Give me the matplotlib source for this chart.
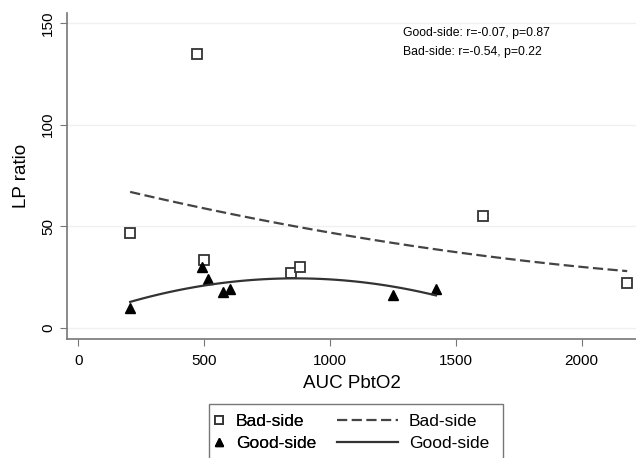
import matplotlib
matplotlib.use("Agg")
import matplotlib.pyplot as plt
from matplotlib.patches import Rectangle
import numpy as np

plt.rcParams['font.family'] = ['Liberation Sans', 'DejaVu Sans']

# bad-side (squares)
bad_x = [206, 470, 499, 844, 881, 1610, 2181]
bad_y = [46.7, 134.5, 33.4, 27.3, 30.0, 55.1, 22.1]
# good-side (triangles)
good_x = [206, 490, 517, 574, 603, 1251, 1421]
good_y = [9.8, 30.0, 24.0, 17.7, 19.3, 16.5, 19.1]

x_ticks = [0, 500, 1000, 1500, 2000]
y_ticks = [0, 50, 100, 150]
stats_txt = ["Good-side: r=-0.07, p=0.87", "Bad-side: r=-0.54, p=0.22"]

W, H = 636, 458
fig = plt.figure(figsize=(W/100, H/100), dpi=100)
ax = fig.add_axes([67/W, 1-339/H, 1-67/W, (339-13)/H])

# quadratic fits like stata qfit
def qfit(x, y):
    c = np.polyfit(x, y, 2)
    xx = np.linspace(min(x), max(x), 100)
    return xx, np.polyval(c, xx)

bx, by = qfit(bad_x, bad_y)
gx, gy = qfit(good_x, good_y)

for t in y_ticks:
    ax.axhline(t, color="#f0f0f0", lw=1, zorder=0)

sq, = ax.plot(bad_x, bad_y, 's', mfc='white', mec='#333333', mew=1.3, ms=6.5, ls='none')
tri, = ax.plot(good_x, good_y, '^', color='black', ms=7, ls='none')
dl, = ax.plot(bx, by, color='#444444', lw=1.6, ls=(0, (4.6, 2.0)))
sl, = ax.plot(gx, gy, color='#333333', lw=1.6)

ax.set_xlim(-45, 2216)
ax.set_ylim(-5.3, 154.8)
ax.set_xticks(x_ticks)
ax.set_yticks(y_ticks)
ax.set_yticklabels([str(t) for t in y_ticks], rotation=90, va='center')
ax.tick_params(direction='out', length=5, color='#777777', labelsize=11)
ax.tick_params(axis='x', pad=6)
for s in ['top', 'right']:
    ax.spines[s].set_visible(False)
for s in ['left', 'bottom']:
    ax.spines[s].set_color('#777777')
    ax.spines[s].set_linewidth(1.2)

ax.set_xlabel("AUC PbtO2", fontsize=13.5, labelpad=5)
ax.set_ylabel("LP ratio", fontsize=13.5, labelpad=8)

ax.text(1292, 144.9, stats_txt[0], fontsize=8.8, va='center', ha='left')
ax.text(1292, 135.6, stats_txt[1], fontsize=8.8, va='center', ha='left')

# legend: markers column + lines column inside one box
fs = 12.5
leg1 = fig.legend([sq, tri], ['Bad-side', 'Good-side'], loc='upper left',
                  bbox_to_anchor=(215/W, 1-414/H), borderaxespad=0, borderpad=0,
                  frameon=False, fontsize=fs, handlelength=0.5, handletextpad=0.7,
                  labelspacing=0.4, markerscale=0.8)
leg2 = fig.legend([dl, sl], ['Bad-side', 'Good-side'], loc='upper left',
                  bbox_to_anchor=(337/W, 1-414/H), borderaxespad=0, borderpad=0,
                  frameon=False, fontsize=fs, handlelength=3.5, handletextpad=0.65,
                  labelspacing=0.4)
fig.add_artist(leg1)
fig.patches.append(Rectangle((209/W, -0.05), (503-209)/W, (1-404/H)+0.05,
                             transform=fig.transFigure, fill=False,
                             edgecolor='#777777', lw=1.0))

fig.savefig("out.png", dpi=100)
